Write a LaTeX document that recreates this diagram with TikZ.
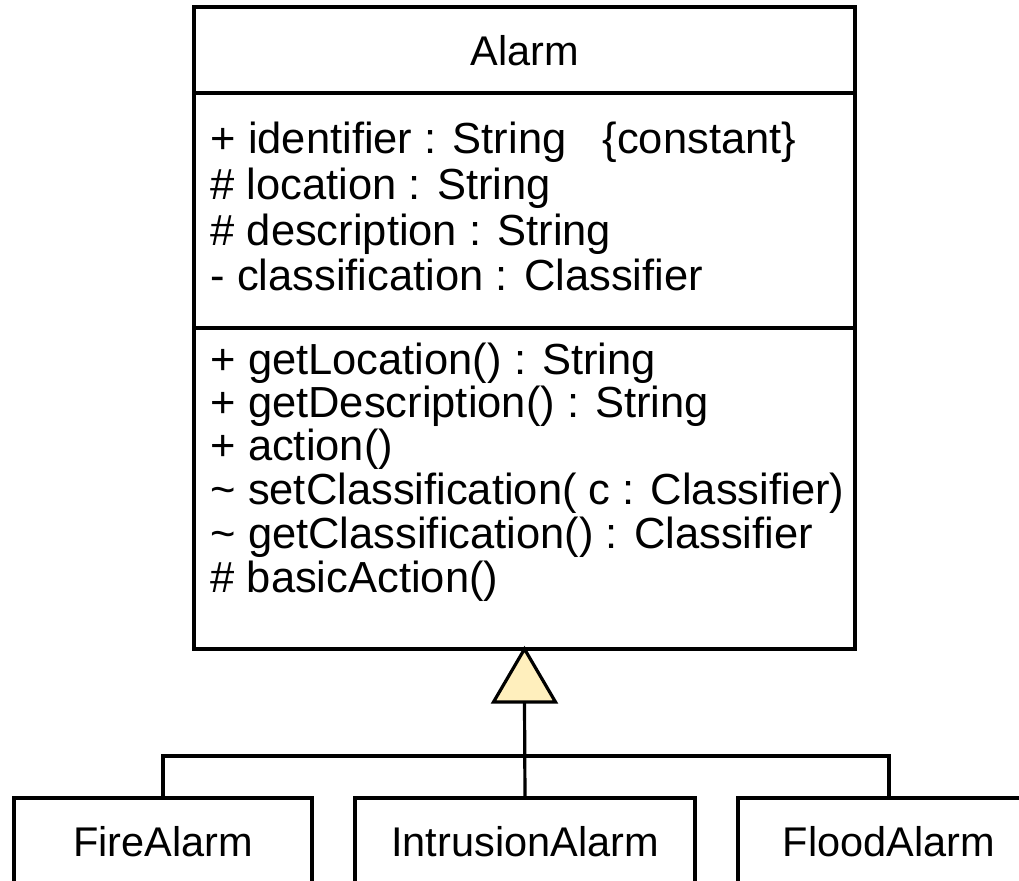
\documentclass[tikz,border=0pt]{standalone}
\usepackage{fontspec}
\usetikzlibrary{calc}
\setmainfont{Liberation Sans}
\definecolor{genfill}{HTML}{FFEFBD}
\begin{document}
\begin{tikzpicture}[x=0.5pt,y=-0.5pt,line width=1.6pt,
  box/.style={draw, inner sep=0pt, outer sep=0pt, anchor=north west},
  member/.style={anchor=base west, inner sep=0pt, font=\fontsize{21.75}{26}\selectfont},
  title/.style={anchor=base, inner sep=0pt, font=\fontsize{20.75}{25}\selectfont}]
\useasboundingbox (0,0) rectangle (1019,880);
\clip (0,0) rectangle (1019,880);

% class Alarm with its three compartments
\node[box, minimum width=330.5pt, minimum height=321pt] (alarm) at (194,7) {};
\draw (alarm.west |- 0,93) -- (alarm.east |- 0,93);
\draw (alarm.west |- 0,328) -- (alarm.east |- 0,328);
\node[title] (alarmname) at (525,65) {Alarm};

% attributes
\node[member] (a1) at (209,153) {+ identifier : String \ \ \{constant\}};
\node[member] (a2) at (209,199) {\# location : String};
\node[member] (a3) at (209,245) {\# description : String};
\node[member] (a4) at (209,290) {- classification : Classifier};

% operations
\node[member] (m1) at (209,374) {+ getLocation() : String};
\node[member] (m2) at (209,417) {+ getDescription() : String};
\node[member] (m3) at (209,460) {+ action()};
\node[member] (m4) at (209,504) {\textasciitilde\ setClassification( c : Classifier)};
\node[member] (m5) at (209,548) {\textasciitilde\ getClassification() : Classifier};
\node[member] (m6) at (209,592) {\# basicAction()};

% subclasses
\node[box, minimum width=149pt, minimum height=80pt] (fire) at (14,798) {};
\node[box, minimum width=170pt, minimum height=80pt] (intr) at (355,798) {};
\node[box, minimum width=151pt, minimum height=80pt] (flood) at (738,798) {};
\node[title] (firename) at (163,856) {FireAlarm};
\node[title] (intrname) at (525,856) {IntrusionAlarm};
\node[title] (floodname) at (889,856) {FloodAlarm};

% generalization: shared hollow triangle and tree of lines
\coordinate (apex) at (alarm.south);
\coordinate (tribase) at ($(apex)+(0,53)$);
\coordinate (bar) at (0,756);
\draw (intr.north) -- (tribase);
\draw (fire.north) -- (fire.north |- bar) -- (flood.north |- bar) -- (flood.north);
\draw[fill=genfill, line join=miter] (apex) -- ++(31,53) -- ++(-62,0) -- cycle;
\end{tikzpicture}
\end{document}
